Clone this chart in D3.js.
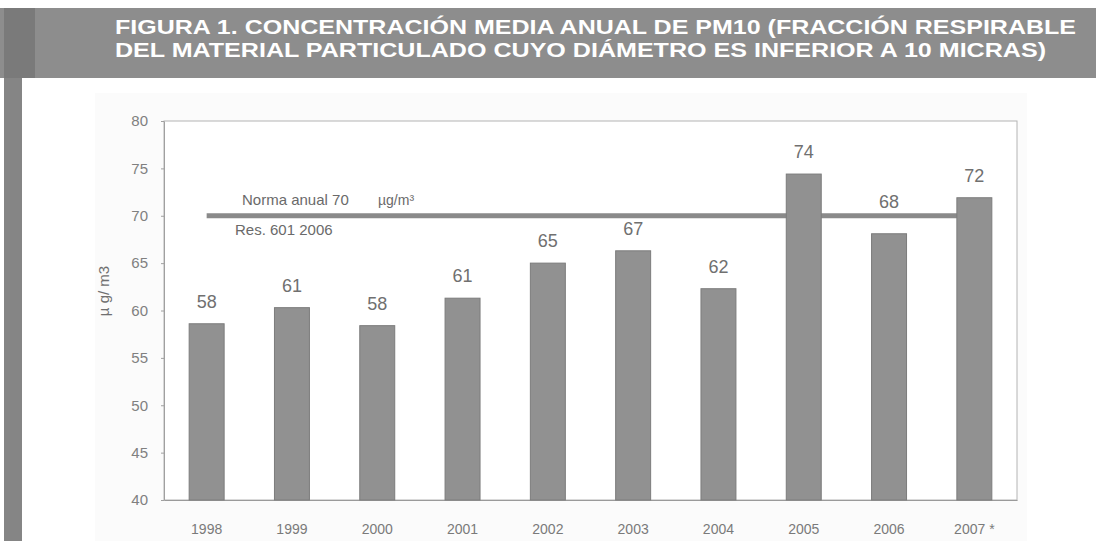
<!DOCTYPE html>
<html>
<head>
<meta charset="utf-8">
<script src="https://cdn.jsdelivr.net/npm/d3@7"></script>
<style>
  html, body { margin: 0; padding: 0; background: #ffffff; }
  svg { display: block; }
</style>
</head>
<body>
<svg id="chart" width="1096" height="541"></svg>
<script>
// ---- data ----
const titleLines = [
  "FIGURA 1. CONCENTRACIÓN MEDIA ANUAL DE PM10 (FRACCIÓN RESPIRABLE",
  "DEL MATERIAL PARTICULADO CUYO DIÁMETRO ES INFERIOR A 10 MICRAS)"
];
const years = ["1998", "1999", "2000", "2001", "2002", "2003", "2004", "2005", "2006", "2007 *"];
const values = [58.6, 60.3, 58.4, 61.3, 65.0, 66.3, 62.3, 74.4, 68.1, 71.9];
const valueLabels = ["58", "61", "58", "61", "65", "67", "62", "74", "68", "72"];
const yTicks = [40, 45, 50, 55, 60, 65, 70, 75, 80];
const normValue = 70;
const normLabel1 = "Norma anual 70";
const normUnit = "µg/m³";
const normLabel2 = "Res. 601 2006";
const yAxisLabel = "µ g/ m3";

// ---- layout ----
const svg = d3.select("#chart");
const plot = { left: 164, right: 1017, top: 121, bottom: 500 };

// background pieces
svg.append("rect").attr("x", 95).attr("y", 93).attr("width", 932).attr("height", 448).attr("fill", "#fbfbfb");
svg.append("rect").attr("x", 0).attr("y", 8).attr("width", 1096).attr("height", 70).attr("fill", "#8d8d8d");
svg.append("rect").attr("x", 4).attr("y", 8).attr("width", 31).attr("height", 70).attr("fill", "#7a7a7a");
svg.append("rect").attr("x", 4).attr("y", 78).attr("width", 18).attr("height", 463).attr("fill", "#858585");

// title (one text block, two lines)
const title = svg.append("text")
  .attr("font-family", "Liberation Sans, Arial, sans-serif")
  .attr("font-weight", "bold")
  .attr("font-size", 20)
  .attr("fill", "#ffffff");
title.selectAll("tspan").data(titleLines).join("tspan")
  .attr("x", 115)
  .attr("y", (d, i) => 34 + i * 22.5)
  .attr("textLength", (d, i) => i === 0 ? 961 : 931)
  .attr("lengthAdjust", "spacingAndGlyphs")
  .text(d => d);

// plot area
svg.append("rect")
  .attr("x", plot.left).attr("y", plot.top)
  .attr("width", plot.right - plot.left).attr("height", plot.bottom - plot.top)
  .attr("fill", "#ffffff").attr("stroke", "#b4b4b4").attr("stroke-width", 1);

const x = d3.scaleBand().domain(years).range([plot.left, plot.right])
  .paddingInner(0.59).paddingOuter(0.295);
const y = d3.scaleLinear().domain([40, 80]).range([plot.bottom, plot.top]);

// y axis
const yAxis = svg.append("g").attr("transform", `translate(${plot.left},0)`)
  .call(d3.axisLeft(y).tickValues(yTicks).tickSize(3).tickSizeOuter(0).tickPadding(13));
yAxis.select(".domain").attr("stroke", "#a0a0a0");
yAxis.selectAll(".tick line").attr("stroke", "#a0a0a0");
yAxis.selectAll(".tick text")
  .attr("font-family", "Liberation Sans, Arial, sans-serif")
  .attr("font-size", 15).attr("fill", "#808080");

// x axis
const xAxis = svg.append("g").attr("transform", `translate(0,${plot.bottom})`)
  .call(d3.axisBottom(x).tickSize(0).tickPadding(24));
xAxis.select(".domain").attr("stroke", "#9a9a9a");
xAxis.selectAll(".tick text")
  .attr("font-family", "Liberation Sans, Arial, sans-serif")
  .attr("font-size", 14).attr("fill", "#7a7a7a");

// norm line (behind bars)
const lineGen = d3.line().x(d => x(d) + x.bandwidth() / 2).y(() => y(normValue));
svg.append("path").datum(years).attr("d", lineGen)
  .attr("fill", "none").attr("stroke", "#8a8a8a").attr("stroke-width", 5);

// bars
svg.selectAll("rect.bar").data(values).join("rect")
  .attr("class", "bar")
  .attr("x", (d, i) => x(years[i]))
  .attr("y", d => y(d))
  .attr("width", x.bandwidth())
  .attr("height", d => y(40) - y(d))
  .attr("fill", "#919191")
  .attr("stroke", "#7c7c7c")
  .attr("stroke-width", 1);

// value labels (lifted above the norm line when they would collide with it)
const normY = y(normValue);
svg.selectAll("text.vlab").data(values).join("text")
  .attr("class", "vlab")
  .attr("x", (d, i) => x(years[i]) + x.bandwidth() / 2)
  .attr("y", d => {
    const base = y(d) - 16;
    return (base > normY - 6 && base - 14 < normY + 4) ? normY - 8 : base;
  })
  .attr("text-anchor", "middle")
  .attr("font-family", "Liberation Sans, Arial, sans-serif")
  .attr("font-size", 18).attr("fill", "#707070")
  .text((d, i) => valueLabels[i]);

// norm labels
const labFont = "Liberation Sans, Arial, sans-serif";
svg.append("text").attr("x", 242).attr("y", normY - 11)
  .attr("font-family", labFont).attr("font-size", 15).attr("fill", "#6a6a6a")
  .text(normLabel1);
svg.append("text").attr("x", 378).attr("y", normY - 11)
  .attr("font-family", labFont).attr("font-size", 14).attr("fill", "#6a6a6a")
  .text(normUnit);
svg.append("text").attr("x", 235).attr("y", normY + 19)
  .attr("font-family", labFont).attr("font-size", 15).attr("fill", "#6a6a6a")
  .text(normLabel2);

// y axis label
svg.append("text")
  .attr("transform", `translate(109,291) rotate(-90)`)
  .attr("text-anchor", "middle")
  .attr("font-family", labFont).attr("font-size", 15).attr("fill", "#707070")
  .text(yAxisLabel);
</script>
</body>
</html>
